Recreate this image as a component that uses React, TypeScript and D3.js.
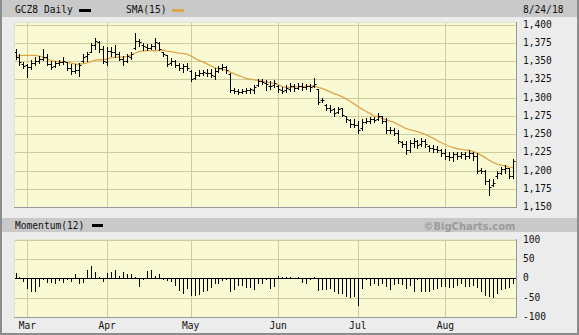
import React from 'react';
import * as d3 from 'd3';

const W = 579;
const H = 335;

// Daily bars (Feb 27 .. Aug 24, 2018), index 0..125
const highs = [
  1366, 1360, 1348, 1346, 1351, 1355, 1357, 1366, 1359, 1350,
  1350, 1351, 1355, 1348, 1346, 1346, 1347, 1359, 1362, 1375,
  1381, 1378, 1371, 1369, 1369, 1372, 1362, 1357, 1360, 1362,
  1389, 1380, 1374, 1373, 1373, 1381, 1376, 1363, 1358, 1354,
  1352, 1347, 1346, 1347, 1338, 1335, 1337, 1338, 1339, 1339,
  1340, 1343, 1346, 1343, 1333, 1313, 1312, 1311, 1313, 1313,
  1317, 1325, 1325, 1324, 1323, 1324, 1317, 1315, 1317, 1320,
  1318, 1320, 1320, 1319, 1318, 1327, 1312, 1299, 1291, 1290,
  1285, 1287, 1286, 1275, 1270, 1270, 1268, 1270, 1272, 1273,
  1273, 1279, 1274, 1272, 1260, 1258, 1255, 1240, 1240, 1242,
  1245, 1242, 1245, 1243, 1235, 1235, 1234, 1230, 1229, 1226,
  1226, 1226, 1226, 1226, 1228, 1225, 1224, 1204, 1201, 1189,
  1188, 1199, 1205, 1207, 1204, 1216,
];
const lows = [
  1353, 1345, 1341, 1328, 1339, 1344, 1347, 1351, 1344, 1339,
  1342, 1344, 1346, 1337, 1332, 1333, 1330, 1348, 1350, 1362,
  1366, 1362, 1347, 1345, 1357, 1355, 1351, 1344, 1348, 1353,
  1366, 1370, 1365, 1365, 1366, 1367, 1365, 1357, 1343, 1345,
  1342, 1338, 1335, 1337, 1322, 1326, 1329, 1331, 1330, 1328,
  1325, 1335, 1338, 1334, 1307, 1306, 1305, 1306, 1306, 1306,
  1306, 1316, 1318, 1310, 1312, 1314, 1308, 1306, 1308, 1309,
  1309, 1312, 1310, 1312, 1309, 1315, 1291, 1294, 1283, 1280,
  1275, 1279, 1274, 1266, 1259, 1260, 1251, 1256, 1265, 1265,
  1266, 1269, 1265, 1252, 1252, 1248, 1238, 1232, 1222, 1226,
  1232, 1231, 1234, 1232, 1227, 1226, 1225, 1220, 1216, 1215,
  1213, 1216, 1217, 1216, 1217, 1215, 1197, 1197, 1181, 1166,
  1179, 1190, 1195, 1197, 1190, 1190,
];
const opens = [
  1362, 1356, 1346, 1344, 1342, 1347, 1350, 1353, 1356, 1346,
  1343, 1347, 1349, 1348, 1340, 1336, 1338, 1350, 1357, 1363,
  1372, 1376, 1366, 1348, 1364, 1363, 1360, 1353, 1350, 1356,
  1368, 1378, 1372, 1369, 1368, 1371, 1375, 1362, 1358, 1347,
  1350, 1345, 1340, 1343, 1336, 1327, 1331, 1333, 1334, 1333,
  1330, 1336, 1340, 1342, 1332, 1310, 1309, 1308, 1309, 1310,
  1310, 1317, 1322, 1320, 1316, 1317, 1316, 1310, 1310, 1312,
  1316, 1313, 1316, 1314, 1316, 1316, 1311, 1296, 1290, 1286,
  1284, 1280, 1285, 1274, 1269, 1264, 1263, 1258, 1266, 1268,
  1270, 1271, 1274, 1268, 1256, 1255, 1252, 1239, 1236, 1228,
  1238, 1240, 1236, 1240, 1234, 1231, 1230, 1228, 1224, 1220,
  1219, 1222, 1220, 1222, 1220, 1224, 1220, 1201, 1199, 1185,
  1180, 1192, 1197, 1202, 1203, 1193,
];
const closes = [
  1355, 1348, 1343, 1342, 1347, 1350, 1353, 1356, 1346, 1342,
  1347, 1349, 1350, 1340, 1336, 1338, 1344, 1356, 1359, 1372,
  1378, 1366, 1350, 1364, 1363, 1360, 1353, 1350, 1357, 1359,
  1378, 1376, 1370, 1368, 1371, 1376, 1367, 1360, 1346, 1350,
  1345, 1340, 1343, 1340, 1326, 1331, 1333, 1335, 1333, 1331,
  1336, 1340, 1342, 1338, 1310, 1309, 1308, 1309, 1310, 1311,
  1315, 1322, 1321, 1318, 1316, 1320, 1311, 1309, 1313, 1316,
  1313, 1316, 1314, 1316, 1315, 1318, 1294, 1297, 1285, 1283,
  1279, 1284, 1276, 1270, 1264, 1263, 1256, 1266, 1268, 1270,
  1269, 1275, 1268, 1256, 1255, 1252, 1241, 1236, 1228, 1238,
  1240, 1235, 1240, 1236, 1231, 1230, 1228, 1224, 1220, 1219,
  1222, 1220, 1222, 1220, 1224, 1220, 1200, 1200, 1185, 1178,
  1183, 1196, 1202, 1204, 1192, 1213,
];
// closes of the 14 sessions before the first visible bar (for the SMA)
const priorCloses = [1335, 1338, 1341, 1345, 1350, 1368, 1379, 1384, 1375, 1360, 1354, 1350, 1358, 1354];

const momentum = [
  14, 3, -6, -26, -32, -34, -21, -2, -9, -9,
  -11, -4, -9, -2, -6, 11, -11, -9, 21, 32,
  16, 4, -6, 13, 15, 21, 6, 17, 11, 11,
  4, -19, -1, 20, 21, 6, 11, -3, -4, -6,
  -17, -30, -37, -26, -44, -43, -40, -34, -30, -23,
  -11, -11, -4, -2, -32, -28, -17, -17, -23, -23,
  -28, -11, -11, -2, -26, -20, 6, 2, 3, 2,
  1, 3, -9, -11, -1, 4, -30, -28, -28, -26,
  -32, -37, -38, -47, -49, -47, -68, -26, -3, -17,
  -13, -17, -11, -21, -28, -15, -13, -15, -26, -17,
  -32, -2, -34, -34, -32, -28, -24, -21, -20, -23,
  -23, -17, -13, -20, -21, -17, -23, -34, -43, -47,
  -49, -38, -28, -26, -22, -11,
];

const monthLabels = ['Mar', 'Apr', 'May', 'Jun', 'Jul', 'Aug'];
const monthIdx = [3, 23, 44, 66, 86, 108];
const priceTicks = [1150, 1175, 1200, 1225, 1250, 1275, 1300, 1325, 1350, 1375, 1400];
const momTicks = [100, 50, 0, -50, -100];

const FONT = '"DejaVu Sans Mono", monospace';
const GRID = '#cdcd9c';

export default function App() {
  const n = closes.length;
  const PL = 14, PR = 516;
  const PT = 22, PB = 207;
  const MT = 239, MB = 317;

  const x = d3.scaleLinear().domain([0, n - 1]).range([15.5, 513]);
  const y = d3.scaleLinear().domain([1150, 1400]).range([207, 24.5]);
  const ym = d3.scaleLinear().domain([-100, 100]).range([317, 239.5]);

  const all = priorCloses.concat(closes);
  const sma = closes.map((_, i) => d3.mean(all.slice(i, i + 15)) as number);
  const smaPath = d3.line<number>().x((_, i) => x(i)).y((d) => y(d))(sma) || '';

  const px = (v: number) => Math.round(v) + 0.5;
  const fmt = d3.format(',');

  return (
    <svg width={W} height={H} style={{ position: 'absolute', left: 0, top: 0 }} xmlns="http://www.w3.org/2000/svg">
      <defs>
        <pattern id="dots" width={2} height={2} patternUnits="userSpaceOnUse">
          <rect width={2} height={2} fill="#ffffe2" />
          <rect width={1} height={1} fill="#f3f3c6" />
          <rect x={1} y={1} width={1} height={1} fill="#f3f3c6" />
        </pattern>
        <clipPath id="mainClip">
          <rect x={PL} y={PT} width={PR - PL} height={PB - PT} />
        </clipPath>
      </defs>

      {/* frame */}
      <rect x={0} y={0} width={W} height={H} fill="#8c8c8c" />
      <rect x={2} y={0} width={W - 4} height={H - 2} fill="#ececec" />

      {/* top header */}
      <rect x={2} y={0} width={W - 4} height={17} fill="#c9c9c9" />
      <text x={15} y={13} fontFamily={FONT} fontSize={9.6} fill="#111">GCZ8 Daily</text>
      <rect x={79} y={9} width={12} height={3} fill="#000" />
      <text x={126} y={13} fontFamily={FONT} fontSize={9.6} fill="#111">SMA(15)</text>
      <rect x={172} y={9} width={12} height={3} fill="#dca64a" />
      <text x={523} y={13} fontFamily={FONT} fontSize={9.6} fill="#111">8/24/18</text>

      {/* main plot */}
      <rect x={PL} y={PT} width={PR - PL} height={PB - PT} fill="url(#dots)" />
      {priceTicks.filter((t) => t > 1150).map((t) => (
        <line key={'pg' + t} x1={PL} x2={PR} y1={px(y(t))} y2={px(y(t))} stroke={GRID} strokeWidth={1} />
      ))}
      {monthIdx.map((m, k) => (
        <line key={'vg' + k} x1={px(x(m))} x2={px(x(m))} y1={PT} y2={PB} stroke={GRID} strokeWidth={1} />
      ))}
      <g clipPath="url(#mainClip)">
        <path d={smaPath} fill="none" stroke="#dca64a" strokeWidth={1.3} />
        {closes.map((c, i) => {
          const cx = px(x(i));
          return (
            <g key={'b' + i} stroke="#000" strokeWidth={1}>
              <line x1={cx} x2={cx} y1={Math.round(y(highs[i]))} y2={Math.round(y(lows[i])) + 1} />
              <line x1={cx - 2} x2={cx} y1={px(y(opens[i]))} y2={px(y(opens[i]))} />
              <line x1={cx} x2={cx + 2} y1={px(y(c))} y2={px(y(c))} />
            </g>
          );
        })}
      </g>
      <line x1={PL} x2={PR} y1={PT + 0.5} y2={PT + 0.5} stroke="#e2e2d0" />
      <line x1={PL + 0.5} x2={PL + 0.5} y1={PT} y2={PB} stroke="#e2e2d0" />
      <line x1={PL} x2={PR + 1} y1={PB + 0.5} y2={PB + 0.5} stroke="#9a9a9a" />
      <line x1={PR + 0.5} x2={PR + 0.5} y1={PT} y2={PB + 1} stroke="#9a9a9a" />
      {priceTicks.map((t) => (
        <text key={'pl' + t} x={523} y={y(t) + 3} fontFamily={FONT} fontSize={9.6} fill="#111">{fmt(t)}</text>
      ))}

      {/* momentum header */}
      <rect x={2} y={218} width={W - 4} height={14} fill="#c9c9c9" />
      <text x={15} y={229} fontFamily={FONT} fontSize={9.6} fill="#111">Momentum(12)</text>
      <rect x={92} y={224} width={11} height={3} fill="#000" />
      <text x={515.5} y={229.5} textAnchor="end" fontFamily='"DejaVu Sans", sans-serif' fontWeight="bold" fontSize={10} fill="#9b9b9b">©BigCharts.com</text>

      {/* momentum plot */}
      <rect x={PL} y={MT} width={PR - PL} height={MB - MT} fill="url(#dots)" />
      {momTicks.filter((t) => t !== 0 && t > -100).map((t) => (
        <line key={'mg' + t} x1={PL} x2={PR} y1={px(ym(t))} y2={px(ym(t))} stroke={GRID} strokeWidth={1} />
      ))}
      {monthIdx.map((m, k) => (
        <line key={'mvg' + k} x1={px(x(m))} x2={px(x(m))} y1={MT} y2={MB} stroke={GRID} strokeWidth={1} />
      ))}
      {momentum.map((v, i) => {
        const cx = px(x(i));
        const y0 = Math.round(ym(0));
        const y1 = Math.round(ym(v));
        return <line key={'m' + i} x1={cx} x2={cx} y1={Math.min(y0, y1)} y2={Math.max(y0, y1) + 1} stroke="#000" strokeWidth={1} />;
      })}
      <line x1={PL} x2={PR} y1={px(ym(0))} y2={px(ym(0))} stroke="#000" strokeWidth={1} />
      <line x1={PL} x2={PR} y1={MT + 0.5} y2={MT + 0.5} stroke="#e2e2d0" />
      <line x1={PL + 0.5} x2={PL + 0.5} y1={MT} y2={MB} stroke="#e2e2d0" />
      <line x1={PL} x2={PR + 1} y1={MB + 0.5} y2={MB + 0.5} stroke="#9a9a9a" />
      <line x1={PR + 0.5} x2={PR + 0.5} y1={MT} y2={MB + 1} stroke="#9a9a9a" />
      {momTicks.map((t) => (
        <text key={'ml' + t} x={523} y={ym(t) + 3} fontFamily={FONT} fontSize={9.6} fill="#111">{t}</text>
      ))}

      {/* month labels */}
      {monthIdx.map((m, k) => (
        <text key={'lab' + k} x={x(m)} y={329} textAnchor="middle" fontFamily={FONT} fontSize={9.6} fill="#111">{monthLabels[k]}</text>
      ))}
    </svg>
  );
}
